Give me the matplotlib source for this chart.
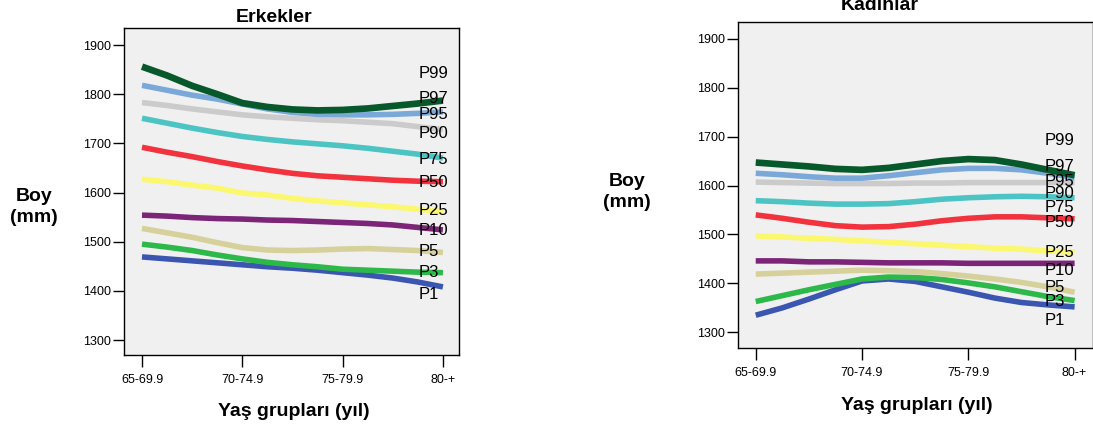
import numpy as np
import matplotlib
matplotlib.use("Agg")
import matplotlib.pyplot as plt

plt.rcParams['font.family'] = ['Liberation Sans', 'DejaVu Sans']

# age groups on the x axis
age_groups = ["65-69.9", "70-74.9", "75-79.9", "80-+"]
# curve values were read at every quarter group
pos = [0, 0.25, 0.5, 0.75, 1, 1.25, 1.5, 1.75, 2, 2.25, 2.5, 2.75, 3]

percentiles = ["P97", "P95", "P90", "P75", "P50", "P25", "P10", "P5", "P3", "P1"]
colors = ["#07592b", "#7aa8d8", "#cbcbcb", "#4cc4c4", "#f2323c",
          "#fbf870", "#7b2478", "#d6d09a", "#2db84a", "#3a56b0"]

# Erkekler (men), height in mm
men_p97 = [1856, 1838, 1817, 1800, 1782, 1774, 1769, 1767, 1768, 1771, 1776, 1781, 1787]
men_p95 = [1818, 1808, 1798, 1790, 1780, 1770, 1763, 1759, 1758, 1758, 1759, 1761, 1764]
men_p90 = [1783, 1777, 1770, 1764, 1758, 1754, 1751, 1748, 1746, 1743, 1740, 1734, 1728]
men_p75 = [1751, 1741, 1731, 1722, 1714, 1708, 1703, 1699, 1695, 1690, 1684, 1678, 1670]
men_p50 = [1692, 1682, 1673, 1663, 1654, 1646, 1639, 1634, 1631, 1628, 1625, 1623, 1622]
men_p25 = [1627, 1622, 1615, 1609, 1599, 1595, 1588, 1583, 1579, 1575, 1571, 1566, 1561]
men_p10 = [1554, 1552, 1549, 1547, 1546, 1544, 1543, 1541, 1539, 1537, 1534, 1529, 1524]
men_p5 = [1527, 1518, 1509, 1498, 1488, 1483, 1482, 1483, 1485, 1486, 1484, 1482, 1478]
men_p3 = [1495, 1489, 1482, 1473, 1465, 1458, 1453, 1449, 1444, 1442, 1440, 1438, 1437]
men_p1 = [1469, 1465, 1461, 1457, 1453, 1449, 1446, 1442, 1437, 1432, 1426, 1418, 1408]

# Kadinlar (women), height in mm
wom_p97 = [1647, 1643, 1639, 1634, 1632, 1636, 1643, 1650, 1654, 1652, 1643, 1632, 1621]
wom_p95 = [1625, 1622, 1618, 1615, 1615, 1620, 1626, 1632, 1635, 1635, 1632, 1625, 1616]
wom_p90 = [1607, 1606, 1605, 1604, 1604, 1604, 1605, 1605, 1606, 1606, 1606, 1606, 1606]
wom_p75 = [1569, 1567, 1564, 1562, 1562, 1563, 1567, 1572, 1575, 1577, 1578, 1577, 1575]
wom_p50 = [1540, 1533, 1525, 1518, 1515, 1516, 1521, 1528, 1533, 1536, 1536, 1534, 1532]
wom_p25 = [1497, 1495, 1492, 1490, 1487, 1484, 1481, 1478, 1475, 1472, 1470, 1466, 1464]
wom_p10 = [1446, 1446, 1444, 1444, 1443, 1442, 1442, 1442, 1441, 1441, 1441, 1441, 1441]
wom_p5 = [1419, 1421, 1423, 1425, 1427, 1426, 1424, 1420, 1415, 1409, 1402, 1393, 1382]
wom_p3 = [1363, 1375, 1387, 1398, 1409, 1413, 1412, 1408, 1401, 1393, 1383, 1373, 1365]
wom_p1 = [1335, 1350, 1368, 1387, 1405, 1409, 1404, 1393, 1382, 1370, 1361, 1356, 1352]

label_names = ["P99", "P97", "P95", "P90", "P75", "P50", "P25", "P10", "P5", "P3", "P1"]
men_label_y = [1842, 1792, 1759, 1720, 1668, 1620, 1564, 1522, 1480, 1438, 1392]
wom_label_y = [1691, 1638, 1608, 1584, 1555, 1524, 1463, 1427, 1392, 1364, 1325]

men = [men_p97, men_p95, men_p90, men_p75, men_p50, men_p25, men_p10, men_p5, men_p3, men_p1]
wom = [wom_p97, wom_p95, wom_p90, wom_p75, wom_p50, wom_p25, wom_p10, wom_p5, wom_p3, wom_p1]

fig = plt.figure(figsize=(10.93, 4.29), dpi=100)
ax1 = fig.add_axes([0.1134, 0.1725, 0.3065, 0.7622])
ax2 = fig.add_axes([0.6749, 0.1888, 0.3248, 0.7606])


def draw_panel(ax, series, label_y, label_x, xlim, ylim):
    ax.set_facecolor("#f0f0f0")
    # draw low percentiles first so the higher ones end up on top
    for i in range(len(series) - 1, -1, -1):
        lw = 4.8 if i == 0 else 4.0
        ax.plot(pos, series[i], color=colors[i], lw=lw,
                solid_capstyle="butt", solid_joinstyle="round")
    for name, yv in zip(label_names, label_y):
        ax.text(label_x, yv, name, fontsize=12, ha="left", va="center", color="black")
    ax.set_xlim(xlim)
    ax.set_ylim(ylim)
    ax.set_xticks(range(len(age_groups)))
    ax.set_xticklabels(age_groups)
    ax.set_yticks([1300, 1400, 1500, 1600, 1700, 1800, 1900])
    ax.tick_params(axis="x", length=8.4, width=1, pad=5, labelsize=9)
    ax.tick_params(axis="y", length=7.9, width=1, pad=1.5, labelsize=9)
    for sp in ax.spines.values():
        sp.set_linewidth(1)


draw_panel(ax1, men, men_label_y, 2.76, (-0.18, 3.16), (1269.5, 1934.6))
draw_panel(ax2, wom, wom_label_y, 2.72, (-0.17, 3.17), (1268, 1934.7))

W, H = 1093, 429
fig.text(274 / W, 1 - 17 / H, "Erkekler", fontsize=14, fontweight="bold", ha="center", va="center")
fig.text(880 / W, 1 - 5 / H, "Kadınlar", fontsize=14, fontweight="bold", ha="center", va="center")
fig.text(34 / W, 1 - 207 / H, "Boy\n(mm)", fontsize=14, fontweight="bold", ha="center", va="center", linespacing=1.3)
fig.text(627 / W, 1 - 192 / H, "Boy\n(mm)", fontsize=14, fontweight="bold", ha="center", va="center", linespacing=1.3)
fig.text(294 / W, 1 - 411 / H, "Yaş grupları (yıl)", fontsize=14, fontweight="bold", ha="center", va="center")
fig.text(917 / W, 1 - 405 / H, "Yaş grupları (yıl)", fontsize=14, fontweight="bold", ha="center", va="center")

fig.savefig("out.png", dpi=100, facecolor="white")
